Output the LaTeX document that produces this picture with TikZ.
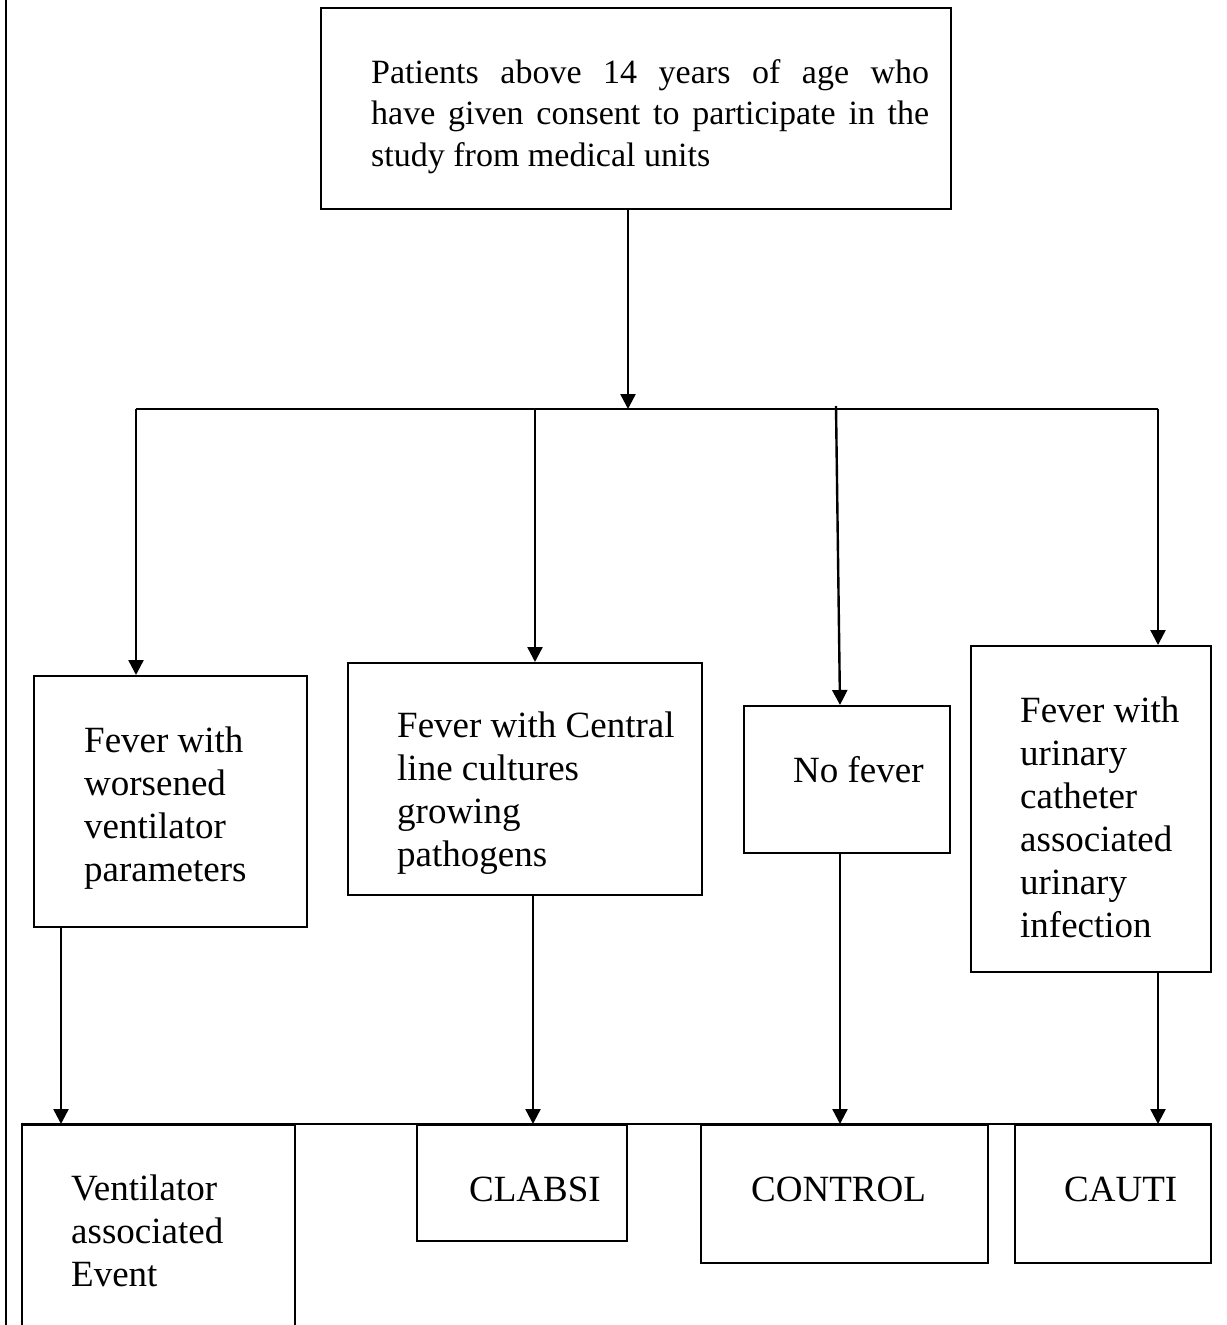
\documentclass[tikz,border=0pt]{standalone}
\usepackage{fontspec}
\setmainfont{Liberation Serif}
\usetikzlibrary{arrows.meta,calc,fit}
\newcommand{\spreadline}[1]{\leavevmode\hbox to 558pt{#1}}
\begin{document}
\begin{tikzpicture}[x=1pt,y=-1pt,
  box/.style={draw,line width=2pt,inner sep=0pt},
  txt/.style={inner sep=0pt,anchor=base west,align=flush left,text width=320pt,
    font=\fontsize{37}{43}\selectfont},
  toptxt/.style={inner sep=0pt,anchor=base west,align=flush left,text width=558pt,
    font=\fontsize{34}{41.5}\selectfont},
  wire/.style={line width=2.4pt},
  arr/.style={line width=2.4pt,-{Triangle[length=15pt,width=15pt]}}]

\useasboundingbox (0,0) rectangle (1226,1325);
\clip (0,0) rectangle (1226,1325);

% page rule on the left
\draw[line width=2.6pt] (6,-5) -- (6,1330);

% boxes
\node[box,fit={(321,8) (951,209)}] (top) {};
\node[box,fit={(34,676) (307,927)}] (b1) {};
\node[box,fit={(348,663) (702,895)}] (b2) {};
\node[box,fit={(744,706) (950,853)}] (b3) {};
\node[box,fit={(971,646) (1211,972)}] (b4) {};
\node[box,fit={(22,1125) (295,1345)}] (bA) {};
\node[box,fit={(417,1125) (627,1241)}] (bB) {};
\node[box,fit={(701,1125) (988,1263)}] (bC) {};
\node[box,fit={(1015,1125) (1211,1263)}] (bD) {};

% texts
\node[toptxt] (ttop) at ($(top.north west)+(51,76)$)
  {\spreadline{Patients\hfill above\hfill 14\hfill years\hfill of\hfill age\hfill who}\\
   \spreadline{have\hfill given\hfill consent\hfill to\hfill participate\hfill in\hfill the}\\
   study from medical units};
\node[txt] (t1) at ($(b1.north west)+(51,77)$)
  {Fever with\\worsened\\ventilator\\parameters};
\node[txt] (t2) at ($(b2.north west)+(50,75)$)
  {Fever with Central\\line cultures\\growing\\pathogens};
\node[txt] (t3) at ($(b3.north west)+(50,77)$) {No fever};
\node[txt] (t4) at ($(b4.north west)+(50,77)$)
  {Fever with\\urinary\\catheter\\associated\\urinary\\infection};
\node[txt] (tA) at ($(bA.north west)+(50,76)$)
  {Ventilator\\associated\\Event};
\node[txt] (tB) at ($(bB.north west)+(53,77)$) {CLABSI};
\node[txt] (tC) at ($(bC.north west)+(51,77)$) {CONTROL};
\node[txt] (tD) at ($(bD.north west)+(50,77)$) {CAUTI};

% junction points
\coordinate (split) at (628,409);
\coordinate (j1) at (136,409);
\coordinate (j2) at (535,409);
\coordinate (j3) at (836,406);
\coordinate (e3) at (840,706);
\coordinate (j4) at (1158,409);
\coordinate (k1) at (61,0);
\coordinate (k2) at (533,0);
\coordinate (k3) at (840,0);
\coordinate (k4) at (1158,0);

% top box to the branch line
\draw[arr] (split |- top.south) -- (split);
\draw[wire] (j1) -- (j4);

% branch line to the four groups
\draw[arr] (j1) -- (j1 |- b1.north);
\draw[arr] (j2) -- (j2 |- b2.north);
\draw[arr] (j3) -- (e3 |- b3.north);
\draw[arr] (j4) -- (j4 |- b4.north);

% groups to the outcomes
\draw[wire] (bA.north west) -- (bD.north east);
\draw[arr] (k1 |- b1.south) -- (k1 |- bA.north);
\draw[arr] (k2 |- b2.south) -- (k2 |- bB.north);
\draw[arr] (k3 |- b3.south) -- (k3 |- bC.north);
\draw[arr] (k4 |- b4.south) -- (k4 |- bD.north);
\end{tikzpicture}
\end{document}
